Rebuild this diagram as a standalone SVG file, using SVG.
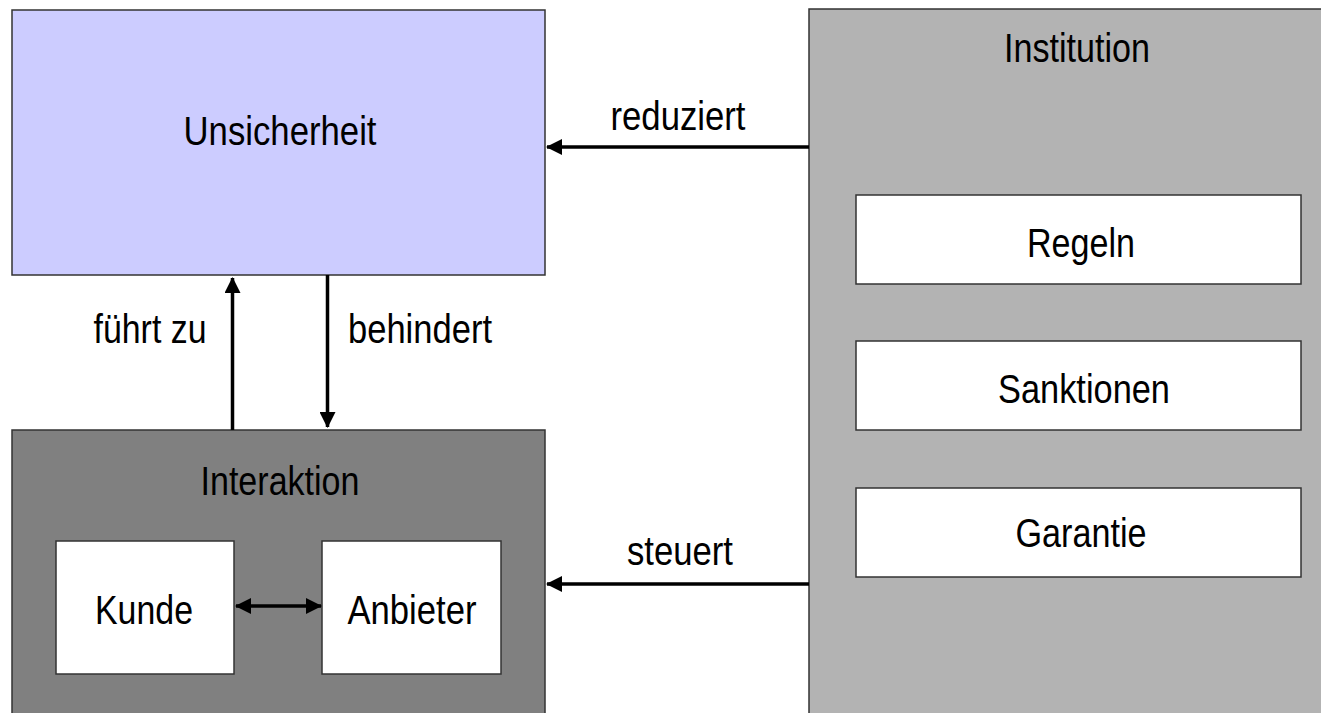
<svg xmlns="http://www.w3.org/2000/svg" width="1321" height="713" viewBox="0 0 1321 713">
<defs>
<style>
.lbl{font-family:"Liberation Sans Narrow","Liberation Sans",Arial,sans-serif;font-size:41px;fill:#000;text-anchor:middle}
.box{stroke:#333;stroke-width:1.5}
.inner{fill:#fff;stroke:#333;stroke-width:1.5}
.conn{stroke:#000;stroke-width:3.5;fill:none}
</style>
<marker id="ah" viewBox="0 0 16 16" refX="15" refY="8" markerWidth="16" markerHeight="16" markerUnits="userSpaceOnUse" orient="auto-start-reverse">
<path d="M0,0 L16,8 L0,16 Z" fill="#000"/>
</marker>
</defs>
<rect width="1321" height="713" fill="#fff"/>
<g id="unsicherheit">
<rect class="box" x="12" y="10" width="533" height="265" fill="#ccccff"/>
<text class="lbl" x="280" y="145" textLength="193" lengthAdjust="spacingAndGlyphs">Unsicherheit</text>
</g>
<g id="interaktion">
<rect class="box" x="12" y="430" width="533" height="300" fill="#808080"/>
<text class="lbl" x="280" y="495" textLength="159" lengthAdjust="spacingAndGlyphs">Interaktion</text>
</g>
<g id="kunde">
<rect class="inner" x="56" y="541" width="178" height="133"/>
<text class="lbl" x="144" y="624" textLength="98" lengthAdjust="spacingAndGlyphs">Kunde</text>
</g>
<g id="anbieter">
<rect class="inner" x="322" y="541" width="179" height="133"/>
<text class="lbl" x="412" y="624" textLength="129" lengthAdjust="spacingAndGlyphs">Anbieter</text>
</g>
<g id="institution">
<rect class="box" x="809" y="9" width="530" height="720" fill="#b3b3b3"/>
<text class="lbl" x="1077" y="62" textLength="146" lengthAdjust="spacingAndGlyphs">Institution</text>
</g>
<g id="regeln">
<rect class="inner" x="856" y="195" width="445" height="89"/>
<text class="lbl" x="1081" y="257" textLength="108" lengthAdjust="spacingAndGlyphs">Regeln</text>
</g>
<g id="sanktionen">
<rect class="inner" x="856" y="341" width="445" height="89"/>
<text class="lbl" x="1084" y="403" textLength="172" lengthAdjust="spacingAndGlyphs">Sanktionen</text>
</g>
<g id="garantie">
<rect class="inner" x="856" y="488" width="445" height="89"/>
<text class="lbl" x="1081" y="547" textLength="131" lengthAdjust="spacingAndGlyphs">Garantie</text>
</g>
<g id="connectors">
<line class="conn" x1="232.5" y1="430" x2="232.5" y2="278" marker-end="url(#ah)"/>
<line class="conn" x1="327.5" y1="275" x2="327.5" y2="427" marker-end="url(#ah)"/>
<line class="conn" x1="809" y1="147" x2="547" y2="147" marker-end="url(#ah)"/>
<line class="conn" x1="809" y1="584" x2="547" y2="584" marker-end="url(#ah)"/>
<line class="conn" x1="236" y1="606" x2="321" y2="606" marker-start="url(#ah)" marker-end="url(#ah)"/>
<text class="lbl" x="150" y="343" textLength="113" lengthAdjust="spacingAndGlyphs">führt zu</text>
<text class="lbl" x="420" y="343" textLength="144" lengthAdjust="spacingAndGlyphs">behindert</text>
<text class="lbl" x="678" y="130" textLength="135" lengthAdjust="spacingAndGlyphs">reduziert</text>
<text class="lbl" x="680" y="565" textLength="106" lengthAdjust="spacingAndGlyphs">steuert</text>
</g>
</svg>
